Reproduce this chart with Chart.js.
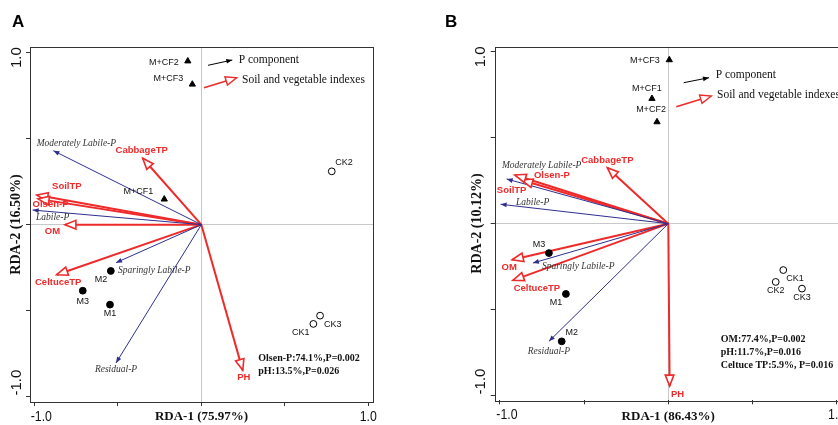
<!DOCTYPE html>
<html>
<head>
<meta charset="utf-8">
<script src="https://cdn.jsdelivr.net/npm/chart.js@4.4.0/dist/chart.umd.min.js"></script>
<style>
  html, body { margin: 0; padding: 0; background: #fff; overflow: hidden; }
  #wrap { position: relative; width: 838px; height: 425px; overflow: hidden; }
  canvas { position: absolute; top: 0; }
  #chartA { left: 0; }
  #chartB { left: 419px; }
</style>
</head>
<body>
<div id="wrap">
  <canvas id="chartA" width="419" height="425"></canvas>
  <canvas id="chartB" width="440" height="425"></canvas>
</div>
<script>
// sites (samples)
const siteNames = ['M+CF1', 'M+CF2', 'M+CF3', 'M1', 'M2', 'M3', 'CK1', 'CK2', 'CK3'];
const siteXA = [-0.222, -0.081, -0.054, -0.547, -0.542, -0.710, 0.671, 0.781, 0.711];
const siteYA = [0.148, 0.951, 0.816, -0.465, -0.269, -0.384, -0.577, 0.310, -0.529];
const siteXB = [-0.097, -0.067, 0.006, -0.608, -0.633, -0.709, 0.683, 0.638, 0.794];
const siteYB = [0.728, 0.592, 0.953, -0.409, -0.685, -0.171, -0.270, -0.339, -0.378];

// P component arrows
const pNames = ['Labile-P', 'Moderately Labile-P', 'Sparingly Labile-P', 'Residual-P'];
const pXA = [-1.010, -0.886, -0.511, -0.511];
const pYA = [0.085, 0.430, -0.221, -0.804];
const pXB = [-0.996, -0.960, -0.804, -0.709];
const pYB = [0.113, 0.260, -0.229, -0.685];

// soil and vegetable index arrows
const envNames = ['SoilTP', 'Olsen-P', 'OM', 'CabbageTP', 'CeltuceTP', 'PH'];
const envXA = [-0.985, -0.978, -0.817, -0.351, -0.866, 0.248];
const envYA = [0.172, 0.150, 0.000, 0.386, -0.291, -0.847];
const envXB = [-0.871, -0.911, -0.927, -0.362, -0.923, 0.008];
const envYB = [0.254, 0.283, -0.210, 0.326, -0.330, -0.945];

const axisTicks = [-1, -0.5, 0, 0.5, 1];
const tickText = { '-1': '-1.0', '1': '1.0' };
const legendText = ['P component', 'Soil and vegetable indexes'];
const notesA = ['Olsen-P:74.1%,P=0.002', 'pH:13.5%,P=0.026'];
const notesB = ['OM:77.4%,P=0.002', 'pH:11.7%,P=0.016', 'Celtuce TP:5.9%, P=0.016'];

const BLUE = '#2f2f8f';
const RED = '#ee2a2a';
const SANS = 'Liberation Sans, Arial, sans-serif';
const SERIF = 'Liberation Serif, Times New Roman, serif';

// label offsets in px from the point / arrow tip: [dx, dy, align]
const labelPosA = {
  'M+CF2': [-9, 1, 'right'], 'M+CF3': [-9, -6, 'right'], 'M+CF1': [-11, -8, 'right'],
  'CK2': [3.5, -8.5, 'left'], 'CK1': [-4, 9, 'right'], 'CK3': [4, 9, 'left'],
  'M2': [-3.5, 9, 'right'], 'M3': [0, 10.5, 'center'], 'M1': [0, 9, 'center'],
  'Moderately Labile-P': [23, -7.5, 'center'], 'Labile-P': [20, 7, 'center'],
  'Sparingly Labile-P': [2, 7.5, 'left'], 'Residual-P': [0, 6.5, 'center'],
  'CabbageTP': [-1, -7.5, 'center'], 'SoilTP': [30, -9, 'center'], 'Olsen-P': [12.5, 6, 'center'],
  'OM': [-12.5, 7, 'center'], 'CeltuceTP': [1.5, 8, 'center'], 'PH': [1, 7, 'center']
};
const labelPosB = {
  'M+CF3': [-9.5, 1, 'right'], 'M+CF1': [-5, -10, 'center'], 'M+CF2': [-6, -12, 'center'],
  'CK1': [3, 8.7, 'left'], 'CK2': [0, 9, 'center'], 'CK3': [0, 8.5, 'center'],
  'M3': [-10, -9, 'center'], 'M1': [-10, 9, 'center'], 'M2': [10, -9, 'center'],
  'Moderately Labile-P': [35, -13.5, 'center'], 'Labile-P': [32, -2, 'center'],
  'Sparingly Labile-P': [9, 3.5, 'left'], 'Residual-P': [0, 10, 'center'],
  'CabbageTP': [0, -7, 'center'], 'Olsen-P': [19, 0.5, 'left'], 'SoilTP': [-10, 10.5, 'center'],
  'OM': [-3, 8, 'center'], 'CeltuceTP': [24, 8, 'center'], 'PH': [8, 8, 'center']
};

function arrowHead(ctx, ox, oy, tx, ty, len, hw, fill, stroke, lw) {
  const a = Math.atan2(ty - oy, tx - ox);
  const bx = tx - len * Math.cos(a), by = ty - len * Math.sin(a);
  ctx.beginPath();
  ctx.moveTo(tx, ty);
  ctx.lineTo(bx - hw * Math.sin(a), by + hw * Math.cos(a));
  ctx.lineTo(bx + hw * Math.sin(a), by - hw * Math.cos(a));
  ctx.closePath();
  ctx.fillStyle = fill;
  ctx.fill();
  if (stroke) {
    ctx.strokeStyle = stroke;
    ctx.lineWidth = lw;
    ctx.stroke();
  }
}

const rdaDecor = {
  id: 'rdaDecor',
  beforeDraw(chart) {
    const ctx = chart.ctx;
    ctx.save();
    ctx.fillStyle = '#fff';
    ctx.fillRect(0, 0, chart.width, chart.height);
    ctx.restore();
  },
  afterDatasetsDraw(chart) {
    const ctx = chart.ctx;
    const o = chart.options.plugins.rdaDecor;
    const ca = chart.chartArea;
    const xs = chart.scales.x, ys = chart.scales.y;
    ctx.save();

    // arrow heads and labels
    chart.data.datasets.forEach((ds, i) => {
      const meta = chart.getDatasetMeta(i);
      if (ds.kind === 'p' || ds.kind === 'env') {
        const p0 = meta.data[0], p1 = meta.data[1];
        if (ds.kind === 'p') {
          arrowHead(ctx, p0.x, p0.y, p1.x, p1.y, 6, 2.4, BLUE);
        } else {
          arrowHead(ctx, p0.x, p0.y, p1.x, p1.y, 11, 4.3, '#fff', RED, 1.6);
        }
        const lp = o.labelPos[ds.name];
        ctx.textAlign = lp[2];
        ctx.textBaseline = 'middle';
        if (ds.kind === 'p') {
          ctx.font = 'italic 9.5px ' + SERIF;
          ctx.fillStyle = '#333';
        } else {
          ctx.font = 'bold 9.5px ' + SANS;
          ctx.fillStyle = RED;
        }
        ctx.fillText(ds.name, p1.x + lp[0], p1.y + lp[1]);
      } else if (ds.kind === 'site') {
        ctx.font = '9px ' + SANS;
        ctx.fillStyle = '#111';
        ctx.textBaseline = 'middle';
        meta.data.forEach((el, j) => {
          const name = ds.names[j];
          const lp = o.labelPos[name];
          ctx.textAlign = lp[2];
          ctx.fillText(name, el.x + lp[0], el.y + lp[1]);
        });
      }
    });

    // frame
    ctx.strokeStyle = '#333';
    ctx.lineWidth = 1;
    ctx.strokeRect(Math.round(ca.left) + 0.5, Math.round(ca.top) + 0.5,
      Math.round(ca.right - ca.left), Math.round(ca.bottom - ca.top));

    // tick labels
    ctx.fillStyle = '#111';
    ctx.textAlign = 'center';
    ctx.textBaseline = 'middle';
    axisTicks.forEach(v => {
      const t = tickText[String(v)];
      if (!t) return;
      const px = xs.getPixelForValue(v) + (v < 0 ? 7 : 0);
      ctx.save();
      ctx.translate(px, ca.bottom + 15);
      ctx.scale(0.82, 1);
      ctx.font = '15px ' + SANS;
      ctx.fillText(t, 0, 0);
      ctx.restore();
      const py = ys.getPixelForValue(v) + (v < 0 ? -14 : 5);
      ctx.save();
      ctx.translate(ca.left - 13.5, py);
      ctx.rotate(-Math.PI / 2);
      ctx.font = '15px ' + SANS;
      ctx.fillText(t, 0, 0);
      ctx.restore();
    });

    // panel letter
    ctx.font = 'bold 17px ' + SANS;
    ctx.fillStyle = '#000';
    ctx.textAlign = 'left';
    ctx.textBaseline = 'alphabetic';
    ctx.fillText(o.letter, o.letterX, 27);

    // legend
    const lg = o.legend;
    ctx.strokeStyle = '#000';
    ctx.lineWidth = 1;
    ctx.beginPath();
    ctx.moveTo(ca.left + lg.p[0], ca.top + lg.p[1]);
    ctx.lineTo(ca.left + lg.p[2], ca.top + lg.p[3]);
    ctx.stroke();
    arrowHead(ctx, ca.left + lg.p[0], ca.top + lg.p[1], ca.left + lg.p[2], ca.top + lg.p[3], 6, 2.4, '#000');
    ctx.strokeStyle = RED;
    ctx.lineWidth = 1.6;
    ctx.beginPath();
    ctx.moveTo(ca.left + lg.e[0], ca.top + lg.e[1]);
    ctx.lineTo(ca.left + lg.e[2], ca.top + lg.e[3]);
    ctx.stroke();
    arrowHead(ctx, ca.left + lg.e[0], ca.top + lg.e[1], ca.left + lg.e[2], ca.top + lg.e[3], 11, 4.3, '#fff', RED, 1.4);
    ctx.font = '11.5px ' + SERIF;
    ctx.fillStyle = '#111';
    ctx.textBaseline = 'middle';
    ctx.fillText(legendText[0], ca.left + lg.pt[0], ca.top + lg.pt[1]);
    ctx.fillText(legendText[1], ca.left + lg.et[0], ca.top + lg.et[1]);

    // notes
    ctx.font = 'bold 10px ' + SERIF;
    o.notes.forEach((t, k) => {
      ctx.fillText(t, ca.left + o.notesAt[0], ca.top + o.notesAt[1] + k * o.notesStep);
    });
    ctx.restore();
  }
};

function buildPanel(id, p) {
  const datasets = [];
  const groups = [
    { test: n => n.startsWith('M+CF'), style: 'triangle', bg: '#000', r: 3.6 },
    { test: n => n.startsWith('CK'), style: 'circle', bg: '#fff', r: 3.4 },
    { test: n => /^M\d/.test(n), style: 'circle', bg: '#000', r: 3.4 }
  ];
  groups.forEach(g => {
    const names = siteNames.filter(g.test);
    datasets.push({
      kind: 'site',
      names: names,
      data: names.map(n => {
        const k = siteNames.indexOf(n);
        return { x: p.siteX[k], y: p.siteY[k] };
      }),
      pointStyle: g.style,
      pointRadius: g.r,
      backgroundColor: g.bg,
      borderColor: '#000',
      borderWidth: 1,
      showLine: false
    });
  });
  pNames.forEach((n, i) => datasets.push({
    kind: 'p', name: n,
    data: [{ x: 0, y: 0 }, { x: p.pX[i], y: p.pY[i] }],
    showLine: true, borderColor: BLUE, borderWidth: 1, pointRadius: 0
  }));
  envNames.forEach((n, i) => datasets.push({
    kind: 'env', name: n,
    data: [{ x: 0, y: 0 }, { x: p.envX[i], y: p.envY[i] }],
    showLine: true, borderColor: RED, borderWidth: 2, pointRadius: 0
  }));

  const gridColor = c => (c.tick && c.tick.value === 0 ? '#c8c8c8' : 'rgba(0,0,0,0)');

  return new Chart(document.getElementById(id), {
    type: 'scatter',
    data: { datasets: datasets },
    options: {
      responsive: false,
      animation: false,
      clip: false,
      layout: { padding: p.padding },
      plugins: {
        legend: { display: false },
        tooltip: { enabled: false },
        rdaDecor: p.decor
      },
      scales: {
        x: {
          type: 'linear', min: p.xMin, max: p.xMax,
          afterBuildTicks: s => { s.ticks = axisTicks.map(v => ({ value: v })); },
          afterFit: s => { s.height = p.xAxisH; },
          grid: { color: gridColor, lineWidth: 1, drawTicks: true, tickLength: 4, tickColor: '#333' },
          border: { display: false },
          ticks: { display: false },
          title: {
            display: true, text: p.xTitle, color: '#111',
            font: { family: SERIF, size: 13, weight: 'bold' },
            padding: { top: 0, bottom: 1 }
          }
        },
        y: {
          type: 'linear', min: p.yMin, max: p.yMax,
          afterBuildTicks: s => { s.ticks = axisTicks.map(v => ({ value: v })); },
          afterFit: s => { s.width = p.yAxisW; },
          grid: { color: gridColor, lineWidth: 1, drawTicks: true, tickLength: 4, tickColor: '#333' },
          border: { display: false },
          ticks: { display: false },
          title: {
            display: true, text: p.yTitle, color: '#111',
            font: { family: SERIF, size: 14, weight: 'bold' },
            padding: { top: p.yTitlePad, bottom: 0 }
          }
        }
      }
    },
    plugins: [rdaDecor]
  });
}

buildPanel('chartA', {
  siteX: siteXA, siteY: siteYA, pX: pXA, pY: pYA, envX: envXA, envY: envYA,
  xMin: -1.026, xMax: 1.028, yMin: -1.031, yMax: 1.033,
  padding: { left: 0, top: 47, right: 46, bottom: 0 },
  yAxisW: 30, xAxisH: 23, yTitlePad: 7.6,
  xTitle: 'RDA-1 (75.97%)', yTitle: 'RDA-2 (16.50%)',
  decor: {
    letter: 'A', letterX: 12, labelPos: labelPosA,
    legend: { p: [178, 18.3, 202.3, 13], e: [174, 40.7, 206.7, 30.7], pt: [208.7, 13], et: [212, 33] },
    notes: notesA, notesAt: [228.3, 311.7], notesStep: 12.6
  }
});

buildPanel('chartB', {
  siteX: siteXB, siteY: siteYB, pX: pXB, pY: pYB, envX: envXB, envY: envYB,
  xMin: -1.031, xMax: 1.030, yMin: -1.028, yMax: 1.030,
  padding: { left: 0, top: 46.7, right: 17.3, bottom: 0 },
  yAxisW: 75.7, xAxisH: 24.7, yTitlePad: 49.6,
  xTitle: 'RDA-1 (86.43%)', yTitle: 'RDA-2 (10.12%)',
  decor: {
    letter: 'B', letterX: 26, labelPos: labelPosB,
    legend: { p: [189, 36, 214.3, 31], e: [181.6, 60, 216.6, 49.3], pt: [221, 28.3], et: [222.3, 48.3] },
    notes: notesB, notesAt: [226, 293], notesStep: 13
  }
});
</script>
</body>
</html>
